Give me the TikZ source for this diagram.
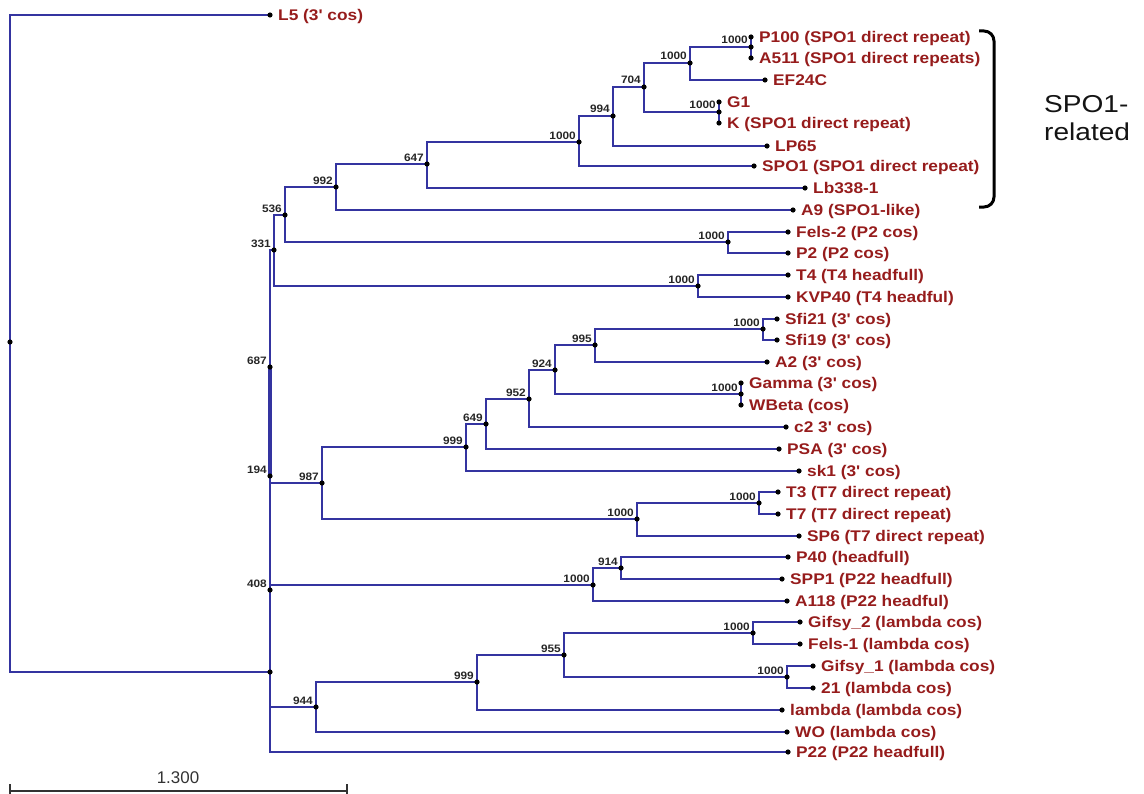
\documentclass[tikz,border=0pt]{standalone}
\usepackage{fontspec}
\newfontfamily\labfont{Liberation Sans}[FakeStretch=1.12]
\newfontfamily\bsfont{Liberation Sans}[FakeStretch=1.1]
\newfontfamily\grpfont{Liberation Sans}[FakeStretch=1.15]
\newfontfamily\plainfont{Liberation Sans}
\definecolor{treeblue}{RGB}{52,52,160}
\definecolor{leafred}{RGB}{150,28,28}
\begin{document}
\begin{tikzpicture}[x=1bp,y=-1bp,
  br/.style={draw=treeblue, line width=1.5bp},
  leaf/.style={anchor=base west, text=leafred, font=\labfont\bfseries\fontsize{15.5}{17}\selectfont, inner sep=0},
  bs/.style={anchor=base east, font=\bsfont\bfseries\fontsize{10.8}{12}\selectfont, inner sep=0, text=black!85}]
\useasboundingbox (0,0) rectangle (1144,794);
% leaves
\coordinate (L5) at (270,15);
\coordinate (P100) at (751,37);
\coordinate (A511) at (751,58);
\coordinate (EF24C) at (765,80);
\coordinate (G1) at (719,102);
\coordinate (K) at (719,123);
\coordinate (LP65) at (767,146);
\coordinate (SPO1) at (754,166);
\coordinate (Lb338) at (805,188);
\coordinate (A9) at (793,210);
\coordinate (Fels2) at (788,232);
\coordinate (P2) at (788,253);
\coordinate (T4) at (788,275);
\coordinate (KVP40) at (788,297);
\coordinate (Sfi21) at (777,319);
\coordinate (Sfi19) at (777,340);
\coordinate (A2) at (767,362);
\coordinate (Gamma) at (741,383);
\coordinate (WBeta) at (741,405);
\coordinate (c2) at (786,427);
\coordinate (PSA) at (779,449);
\coordinate (sk1) at (799,471);
\coordinate (T3) at (778,492);
\coordinate (T7) at (778,514);
\coordinate (SP6) at (799,536);
\coordinate (P40) at (788,557);
\coordinate (SPP1) at (782,579);
\coordinate (A118) at (787,601);
\coordinate (Gifsy2) at (800,622);
\coordinate (Fels1) at (800,644);
\coordinate (Gifsy1) at (813,666);
\coordinate (n21) at (813,688);
\coordinate (lambda) at (782,710);
\coordinate (WO) at (787,732);
\coordinate (P22) at (788,752);
% internal nodes
\coordinate (root) at (10,342);
\coordinate (nA) at (270,672);
\coordinate (n408) at (270,590);
\coordinate (n194) at (270,476);
\coordinate (n687) at (270,367);
\coordinate (n331) at (274,250);
\coordinate (n536) at (285,215);
\coordinate (n992) at (336,187);
\coordinate (n647) at (427,164);
\coordinate (n1000a) at (579,142);
\coordinate (n994) at (613,116);
\coordinate (n704) at (644,87);
\coordinate (n1000b) at (690,63);
\coordinate (nP100) at (751,47);
\coordinate (nG1) at (719,112);
\coordinate (nFels) at (728,242);
\coordinate (nT4) at (698,286);
\coordinate (n987) at (322,483);
\coordinate (n999a) at (466,447);
\coordinate (n649) at (486,424);
\coordinate (n952) at (529,399);
\coordinate (n924) at (555,370);
\coordinate (n995) at (595,345);
\coordinate (nSfi) at (763,329);
\coordinate (nGam) at (741,394);
\coordinate (nT) at (637,519);
\coordinate (nT3) at (759,503);
\coordinate (nP40) at (593,585);
\coordinate (n914) at (621,568);
\coordinate (n944) at (316,707);
\coordinate (n999b) at (477,682);
\coordinate (n955) at (564,655);
\coordinate (nGif2) at (753,633);
\coordinate (nGif1) at (787,677);
% branches
\draw[br] (root) |- (L5) (root) |- (nA);
\draw[br] (nA) |- (n408) (nA) |- (n944) (nA) |- (P22);
\draw[br] (n408) |- (n194) (n408) |- (nP40);
\draw[br] (n194) |- (n987);
\draw[br, line width=3.2bp] (n687) -- (n194);
\draw[br] (n687) |- (n331);
\draw[br] (n331) |- (n536) (n331) |- (nT4);
\draw[br] (n536) |- (n992) (n536) |- (nFels);
\draw[br] (n992) |- (n647) (n992) |- (A9);
\draw[br] (n647) |- (n1000a) (n647) |- (Lb338);
\draw[br] (n1000a) |- (n994) (n1000a) |- (SPO1);
\draw[br] (n994) |- (n704) (n994) |- (LP65);
\draw[br] (n704) |- (n1000b) (n704) |- (nG1);
\draw[br] (n1000b) |- (nP100) (n1000b) |- (EF24C);
\draw[br] (nP100) |- (P100) (nP100) |- (A511);
\draw[br] (nG1) |- (G1) (nG1) |- (K);
\draw[br] (nFels) |- (Fels2) (nFels) |- (P2);
\draw[br] (nT4) |- (T4) (nT4) |- (KVP40);
\draw[br] (n987) |- (n999a) (n987) |- (nT);
\draw[br] (n999a) |- (n649) (n999a) |- (sk1);
\draw[br] (n649) |- (n952) (n649) |- (PSA);
\draw[br] (n952) |- (n924) (n952) |- (c2);
\draw[br] (n924) |- (n995) (n924) |- (nGam);
\draw[br] (n995) |- (nSfi) (n995) |- (A2);
\draw[br] (nSfi) |- (Sfi21) (nSfi) |- (Sfi19);
\draw[br] (nGam) |- (Gamma) (nGam) |- (WBeta);
\draw[br] (nT) |- (nT3) (nT) |- (SP6);
\draw[br] (nT3) |- (T3) (nT3) |- (T7);
\draw[br] (nP40) |- (n914) (nP40) |- (A118);
\draw[br] (n914) |- (P40) (n914) |- (SPP1);
\draw[br] (n944) |- (n999b) (n944) |- (WO);
\draw[br] (n999b) |- (n955) (n999b) |- (lambda);
\draw[br] (n955) |- (nGif2) (n955) |- (nGif1);
\draw[br] (nGif2) |- (Gifsy2) (nGif2) |- (Fels1);
\draw[br] (nGif1) |- (Gifsy1) (nGif1) |- (n21);
% dots
\foreach \n in {L5,P100,A511,EF24C,G1,K,LP65,SPO1,Lb338,A9,Fels2,P2,T4,KVP40,Sfi21,Sfi19,A2,Gamma,WBeta,c2,PSA,sk1,T3,T7,SP6,P40,SPP1,A118,Gifsy2,Fels1,Gifsy1,n21,lambda,WO,P22,root,nA,n408,n194,n687,n331,n536,n992,n647,n1000a,n994,n704,n1000b,nP100,nG1,nFels,nT4,n987,n999a,n649,n952,n924,n995,nSfi,nGam,nT,nT3,nP40,n914,n944,n999b,n955,nGif2,nGif1}
  \fill (\n) circle (2.6bp);
% leaf labels
\node[leaf] (tL5) at ([shift={(8,5.5)}]L5) {L5 (3' cos)};
\node[leaf] (tP100) at ([shift={(8,5.5)}]P100) {P100 (SPO1 direct repeat)};
\node[leaf] (tA511) at ([shift={(8,5.5)}]A511) {A511 (SPO1 direct repeats)};
\node[leaf] (tEF24C) at ([shift={(8,5.5)}]EF24C) {EF24C};
\node[leaf] (tG1) at ([shift={(8,5.5)}]G1) {G1};
\node[leaf] (tK) at ([shift={(8,5.5)}]K) {K (SPO1 direct repeat)};
\node[leaf] (tLP65) at ([shift={(8,5.5)}]LP65) {LP65};
\node[leaf] (tSPO1) at ([shift={(8,5.5)}]SPO1) {SPO1 (SPO1 direct repeat)};
\node[leaf] (tLb338) at ([shift={(8,5.5)}]Lb338) {Lb338-1};
\node[leaf] (tA9) at ([shift={(8,5.5)}]A9) {A9 (SPO1-like)};
\node[leaf] (tFels2) at ([shift={(8,5.5)}]Fels2) {Fels-2 (P2 cos)};
\node[leaf] (tP2) at ([shift={(8,5.5)}]P2) {P2 (P2 cos)};
\node[leaf] (tT4) at ([shift={(8,5.5)}]T4) {T4 (T4 headfull)};
\node[leaf] (tKVP40) at ([shift={(8,5.5)}]KVP40) {KVP40 (T4 headful)};
\node[leaf] (tSfi21) at ([shift={(8,5.5)}]Sfi21) {Sfi21 (3' cos)};
\node[leaf] (tSfi19) at ([shift={(8,5.5)}]Sfi19) {Sfi19 (3' cos)};
\node[leaf] (tA2) at ([shift={(8,5.5)}]A2) {A2 (3' cos)};
\node[leaf] (tGamma) at ([shift={(8,5.5)}]Gamma) {Gamma (3' cos)};
\node[leaf] (tWBeta) at ([shift={(8,5.5)}]WBeta) {WBeta (cos)};
\node[leaf] (tc2) at ([shift={(8,5.5)}]c2) {c2 3' cos)};
\node[leaf] (tPSA) at ([shift={(8,5.5)}]PSA) {PSA (3' cos)};
\node[leaf] (tsk1) at ([shift={(8,5.5)}]sk1) {sk1 (3' cos)};
\node[leaf] (tT3) at ([shift={(8,5.5)}]T3) {T3 (T7 direct repeat)};
\node[leaf] (tT7) at ([shift={(8,5.5)}]T7) {T7 (T7 direct repeat)};
\node[leaf] (tSP6) at ([shift={(8,5.5)}]SP6) {SP6 (T7 direct repeat)};
\node[leaf] (tP40) at ([shift={(8,5.5)}]P40) {P40 (headfull)};
\node[leaf] (tSPP1) at ([shift={(8,5.5)}]SPP1) {SPP1 (P22 headfull)};
\node[leaf] (tA118) at ([shift={(8,5.5)}]A118) {A118 (P22 headful)};
\node[leaf] (tGifsy2) at ([shift={(8,5.5)}]Gifsy2) {Gifsy\_2 (lambda cos)};
\node[leaf] (tFels1) at ([shift={(8,5.5)}]Fels1) {Fels-1 (lambda cos)};
\node[leaf] (tGifsy1) at ([shift={(8,5.5)}]Gifsy1) {Gifsy\_1 (lambda cos)};
\node[leaf] (tn21) at ([shift={(8,5.5)}]n21) {21 (lambda cos)};
\node[leaf] (tlambda) at ([shift={(8,5.5)}]lambda) {lambda (lambda cos)};
\node[leaf] (tWO) at ([shift={(8,5.5)}]WO) {WO (lambda cos)};
\node[leaf] (tP22) at ([shift={(8,5.5)}]P22) {P22 (P22 headfull)};
% bootstrap values
\node[bs] (b331) at ([shift={(-3,-3)}]n331) {331};
\node[bs] (b536) at ([shift={(-3,-3)}]n536) {536};
\node[bs] (b687) at ([shift={(-3,-3)}]n687) {687};
\node[bs] (b194) at ([shift={(-3,-3)}]n194) {194};
\node[bs] (b408) at ([shift={(-3,-3)}]n408) {408};
\node[bs] (b992) at ([shift={(-3,-3)}]n992) {992};
\node[bs] (b647) at ([shift={(-3,-3)}]n647) {647};
\node[bs] (b1000a) at ([shift={(-3,-3)}]n1000a) {1000};
\node[bs] (b994) at ([shift={(-3,-3)}]n994) {994};
\node[bs] (b704) at ([shift={(-3,-3)}]n704) {704};
\node[bs] (b1000b) at ([shift={(-3,-3)}]n1000b) {1000};
\node[bs] (bP100) at ([shift={(-3,-3)}]nP100) {1000};
\node[bs] (bG1) at ([shift={(-3,-3)}]nG1) {1000};
\node[bs] (bFels) at ([shift={(-3,-3)}]nFels) {1000};
\node[bs] (bT4) at ([shift={(-3,-3)}]nT4) {1000};
\node[bs] (b987) at ([shift={(-3,-3)}]n987) {987};
\node[bs] (b999a) at ([shift={(-3,-3)}]n999a) {999};
\node[bs] (b649) at ([shift={(-3,-3)}]n649) {649};
\node[bs] (b952) at ([shift={(-3,-3)}]n952) {952};
\node[bs] (b924) at ([shift={(-3,-3)}]n924) {924};
\node[bs] (b995) at ([shift={(-3,-3)}]n995) {995};
\node[bs] (bSfi) at ([shift={(-3,-3)}]nSfi) {1000};
\node[bs] (bGam) at ([shift={(-3,-3)}]nGam) {1000};
\node[bs] (bT) at ([shift={(-3,-3)}]nT) {1000};
\node[bs] (bT3) at ([shift={(-3,-3)}]nT3) {1000};
\node[bs] (bP40) at ([shift={(-3,-3)}]nP40) {1000};
\node[bs] (b914) at ([shift={(-3,-3)}]n914) {914};
\node[bs] (b944) at ([shift={(-3,-3)}]n944) {944};
\node[bs] (b999b) at ([shift={(-3,-3)}]n999b) {999};
\node[bs] (b955) at ([shift={(-3,-3)}]n955) {955};
\node[bs] (bGif2) at ([shift={(-3,-3)}]nGif2) {1000};
\node[bs] (bGif1) at ([shift={(-3,-3)}]nGif1) {1000};
% bracket and group label
\draw[line width=3bp, rounded corners=10bp] (979,31) -- (994,31) -- (994,207) -- (979,207);
\node[anchor=base west, inner sep=0, align=left, font=\grpfont\fontsize{24.5}{28}\selectfont, text=black!92] (grp) at (1044,140) {SPO1-\\related};
% scale bar
\draw[draw=black!80, line width=1.2bp] (10,791) -- (347,791) (10,784) -- (10,796) (347,784) -- (347,796);
\node[anchor=base, inner sep=0, font=\plainfont\fontsize{17}{19}\selectfont, text=black!80] (scl) at (178,783) {1.300};
\end{tikzpicture}
\end{document}
